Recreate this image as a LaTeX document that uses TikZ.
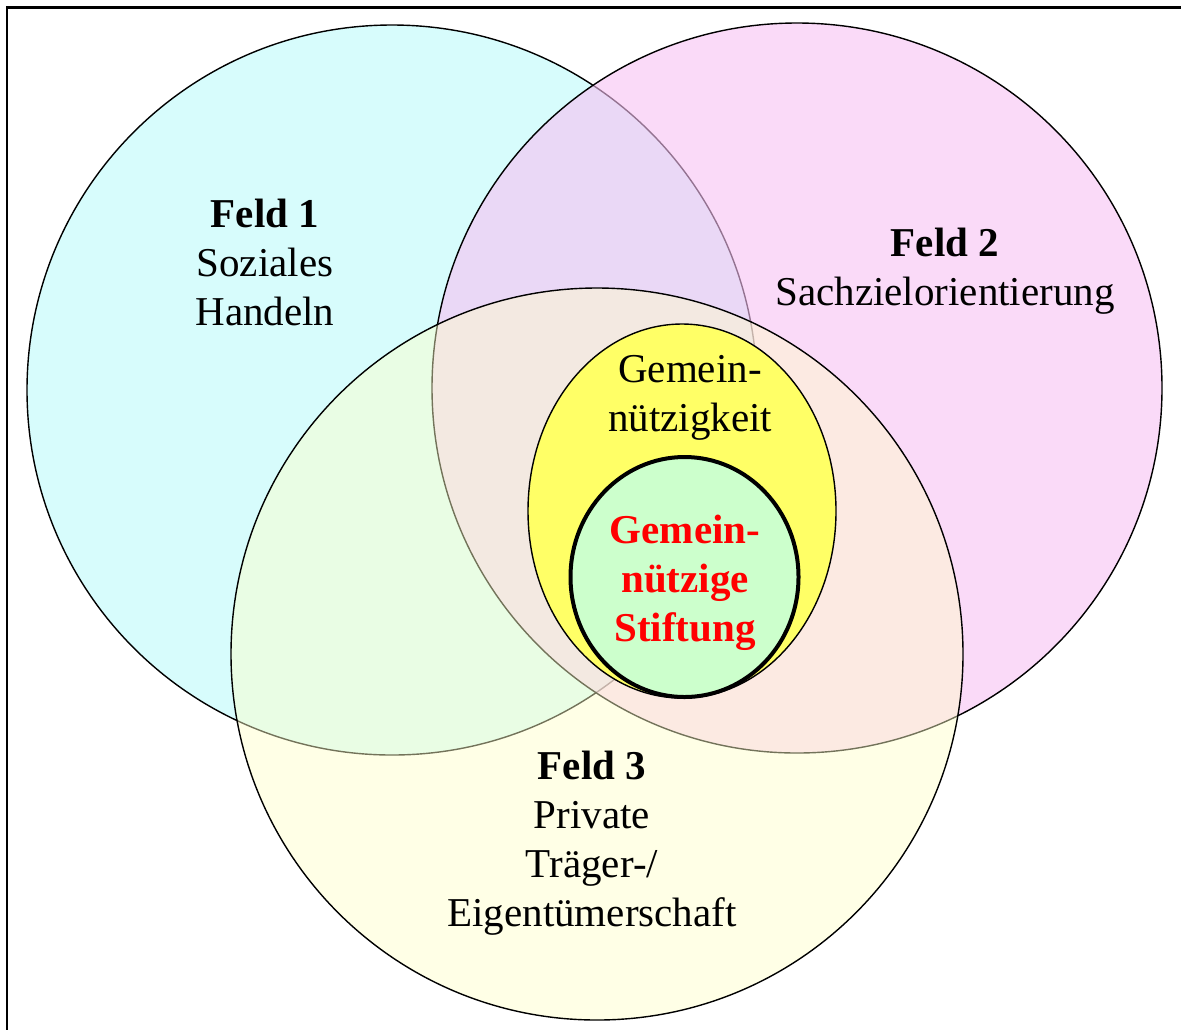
\documentclass[tikz,border=0pt]{standalone}
\usepackage{fontspec}
\setmainfont{Liberation Serif}
\usetikzlibrary{shapes.geometric}
\definecolor{feldeins}{RGB}{215,252,252}
\definecolor{feldzwei}{RGB}{247,193,243}
\definecolor{felddrei}{RGB}{255,255,200}
\definecolor{gemein}{RGB}{255,255,102}
\definecolor{stiftung}{RGB}{204,255,204}
\tikzset{
  feld/.style={shape=circle, draw=black, line width=0.7pt, minimum size=365pt},
  feldtext/.style={align=center, font=\fontsize{20.5}{24.5}\selectfont}
}

\begin{document}
\begin{tikzpicture}[x=0.5pt,y=-0.5pt]
    \useasboundingbox (0,0) rectangle (1181,1030);
    \draw[line width=1.4pt] (1181,7.5) -- (7,7.5) -- (7,1030);
    % the three fields
    \node[feld, fill=feldeins] at (392,390) (K1) {};
    \node[feld, fill=feldzwei, fill opacity=0.6] at (797,388) (K2) {};
    \node[feld, fill=felddrei, fill opacity=0.45, minimum size=366pt] at (597,654) (K3) {};
    \node[shape=ellipse, draw=black, line width=0.7pt, fill=gemein, minimum width=154pt, minimum height=187pt] at (682,511) (GN) {};
    \node[shape=ellipse, draw=black, line width=2pt, fill=stiftung, minimum width=114pt, minimum height=120pt] at (684.5,577) (GS) {};
    % labels
    \node[feldtext] at (265,262) (F1) {\textbf{Feld 1}\\Soziales\\Handeln};
    \node[feldtext] at (945,271) (F2) {\textbf{Feld 2}\\Sachzielorientierung};
    \node[feldtext] at (592,843) (F3) {\textbf{Feld 3}\\Private\\Träger-/\\Eigentümerschaft};
    \node[feldtext] at (690,398) (T1) {Gemein-\\nützigkeit};
    \node[feldtext, text=red, font=\fontsize{20.5}{24.5}\selectfont\bfseries] at (685,583) (T2) {Gemein-\\nützige\\Stiftung};
\end{tikzpicture}
\end{document}
